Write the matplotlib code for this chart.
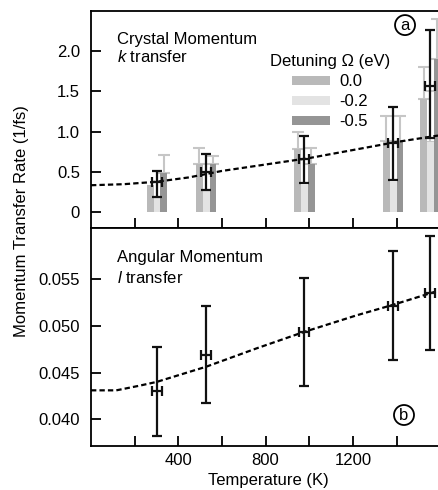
import numpy as np
import matplotlib
matplotlib.use("Agg")
import matplotlib.pyplot as plt

plt.rcParams['font.family'] = ['Liberation Sans', 'DejaVu Sans']
plt.rcParams['mathtext.fontset'] = 'custom'
plt.rcParams['mathtext.it'] = 'Liberation Sans:italic'
plt.rcParams['mathtext.rm'] = 'Liberation Sans'
plt.rcParams['font.size'] = 12

# temperatures of the measurement groups (K)
temps = [302, 528, 978, 1385, 1555]
temp_err = [23, 23, 23, 23, 23]

# crystal momentum (k) transfer rate per detuning, with upper error limits
detunings = ['0.0', '-0.2', '-0.5']
k_bars = {
    '0.0': [0.33, 0.59, 0.78, 0.88, 1.40],
    '-0.2': [0.20, 0.275, 0.34, 0.37, 0.87],
    '-0.5': [0.49, 0.59, 0.59, 0.88, 1.90],
}
k_bars_top = {
    '0.0': [np.nan, 0.80, 1.00, 1.19, 1.80],
    '-0.2': [np.nan, np.nan, np.nan, np.nan, 1.50],
    '-0.5': [0.71, 0.70, 0.80, 1.19, 2.40],
}
bar_colors = {'0.0': '#b9b9b9', '-0.2': '#e3e3e3', '-0.5': '#959595'}

# averaged k transfer
k_mean = [0.37, 0.50, 0.66, 0.855, 1.57]
k_low = [0.19, 0.275, 0.36, 0.40, 0.915]
k_high = [0.51, 0.725, 0.94, 1.31, 2.26]

# fit curve
k_fit_t = [0, 150, 300, 450, 600, 800, 1000, 1200, 1400, 1590]
k_fit_y = [0.332, 0.345, 0.375, 0.43, 0.51, 0.59, 0.67, 0.77, 0.87, 0.95]

# angular momentum (l) transfer
l_mean = [0.0430, 0.0469, 0.0493, 0.0521, 0.0535]
l_low = [0.0382, 0.0417, 0.0436, 0.0463, 0.0474]
l_high = [0.0477, 0.0521, 0.0551, 0.0580, 0.0596]

l_fit_t = [0, 116, 223, 301, 528, 757, 973, 1218, 1382, 1590]
l_fit_y = [0.0431, 0.0431, 0.0436, 0.0440, 0.04562, 0.04756, 0.0493, 0.0511, 0.0522, 0.0537]

fig = plt.figure(figsize=(4.38, 4.90), dpi=100)
ax1 = fig.add_axes([0.2078, 0.5347, 0.7922, 0.4429])
ax2 = fig.add_axes([0.2078, 0.0904, 0.7922, 0.4443])

bar_w = 31
for i, d in enumerate(detunings):
    xs = np.array(temps) + (i - 1) * bar_w
    ax1.bar(xs, k_bars[d], width=bar_w, color=bar_colors[d], label=d, zorder=2)
    top = np.array(k_bars_top[d])
    vals = np.array(k_bars[d])
    ok = ~np.isnan(top)
    ax1.errorbar(xs[ok], vals[ok], yerr=[np.zeros(ok.sum()), top[ok] - vals[ok]],
                 fmt='none', ecolor='#c6c6c6', elinewidth=1.5, capsize=4.5,
                 capthick=1.5, zorder=1)

ax1.plot(k_fit_t, k_fit_y, color='black', lw=1.6, linestyle=(0, (2.4, 1.4)), zorder=4)
km = np.array(k_mean)
ax1.errorbar(temps, km, yerr=[km - np.array(k_low), np.array(k_high) - km],
             xerr=temp_err, fmt='none', ecolor='#111111', elinewidth=1.6,
             capsize=3.5, capthick=1.6, zorder=5)

ax2.plot(l_fit_t, l_fit_y, color='black', lw=1.6, linestyle=(0, (2.4, 1.4)), zorder=4)
lm = np.array(l_mean)
ax2.errorbar(temps, lm, yerr=[lm - np.array(l_low), np.array(l_high) - lm],
             xerr=temp_err, fmt='none', ecolor='#111111', elinewidth=1.6,
             capsize=3.5, capthick=1.6, zorder=5)

for ax in (ax1, ax2):
    ax.set_xlim(0, 1590)
    ax.spines['right'].set_visible(False)
    for s in ('left', 'top', 'bottom'):
        ax.spines[s].set_linewidth(1.3)
    ax.set_xticks([200, 400, 600, 800, 1000, 1200, 1400])
    ax.tick_params(direction='in', length=7.5, width=1.3, labelsize=12,
                   right=False, top=False)
    ax.tick_params(axis='y', pad=8)
    ax.tick_params(axis='x', pad=5)

ax1.set_ylim(-0.2, 2.5)
ax1.set_yticks([0, 0.5, 1.0, 1.5, 2.0])
ax1.set_yticklabels(['0', '0.5', '1.0', '1.5', '2.0'])
ax1.set_xticklabels([])

ax2.set_ylim(0.0372, 0.0604)
ax2.set_yticks([0.040, 0.045, 0.050, 0.055])
ax2.set_yticklabels(['0.040', '0.045', '0.050', '0.055'])
ax2.set_xticklabels(['', '400', '', '800', '', '1200', ''])

ax1.text(0.075, 0.848, 'Crystal Momentum', transform=ax1.transAxes, va='baseline')
ax1.text(0.075, 0.765, '$k$ transfer', transform=ax1.transAxes, va='baseline')
ax2.text(0.075, 0.845, 'Angular Momentum', transform=ax2.transAxes, va='baseline')
ax2.text(0.075, 0.747, '$l$ transfer', transform=ax2.transAxes, va='baseline')

ax1.text(0.905, 0.935, 'a', transform=ax1.transAxes, ha='center', va='center',
         bbox=dict(boxstyle='circle,pad=0.15', fc='white', ec='black', lw=1.3))
ax2.text(0.902, 0.141, 'b', transform=ax2.transAxes, ha='center', va='center',
         bbox=dict(boxstyle='circle,pad=0.15', fc='white', ec='black', lw=1.3))

leg = ax1.legend(title='Detuning Ω (eV)', loc='upper left', bbox_to_anchor=(0.492, 0.838),
                 frameon=False, borderpad=0, handlelength=2.3, handleheight=0.45,
                 handletextpad=0.55, labelspacing=0.3, fontsize=12, title_fontsize=12)

fig.text(22 / 438, 1 - 221 / 490, 'Momentum Transfer Rate (1/fs)', rotation=90,
         ha='center', va='center', fontsize=12)
fig.text(268 / 438, 1 - 485 / 490, 'Temperature (K)', ha='center', va='baseline',
         fontsize=12)

fig.savefig('out.png', dpi=100)
